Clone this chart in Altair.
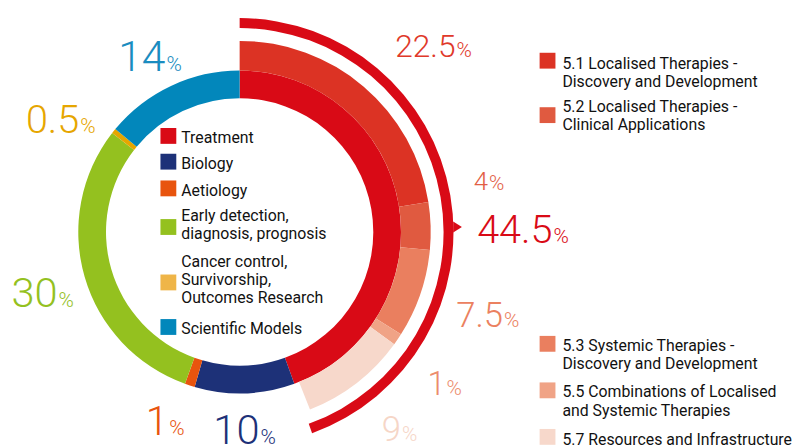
import math
import altair as alt
import pandas as pd

# ---------------- data ----------------
categories = ["Treatment", "Biology", "Aetiology",
              "Early detection,\ndiagnosis, prognosis",
              "Cancer control,\nSurvivorship,\nOutcomes Research",
              "Scientific Models"]
shares = [44.5, 10, 1, 30, 0.5, 14]

sub_categories = ["5.1 Localised Therapies -\nDiscovery and Development",
                  "5.2 Localised Therapies -\nClinical Applications",
                  "5.3 Systemic Therapies -\nDiscovery and Development",
                  "5.5 Combinations of Localised\nand Systemic Therapies",
                  "5.7 Resources and Infrastructure"]
sub_shares = [22.5, 4, 7.5, 1, 9]

# ---------------- style / layout ----------------
cat_colors = ["#d90a16", "#1d3178", "#e8540e", "#94c11f", "#e6a600", "#0287bb"]
cat_legend_colors = ["#d90a16", "#1d3178", "#e8540e", "#94c11f", "#efb548", "#0287bb"]
cat_label_colors = ["#d90a16", "#1d3178", "#e8540e", "#94c11f", "#e6a600", "#1a8cc0"]
sub_colors = ["#dc3324", "#e05a40", "#ea7f5f", "#f0a386", "#f7d8cb"]
sub_label_colors = ["#e0392a", "#e25e45", "#eb8160", "#ec8c6c", "#f6d6c7"]
total_color = "#d90a16"

M = 8  # page margin
CX, CY = 242 - M, 232 - M
R_IN, R_MID, R_OUT = 135, 163, 193
R_LINE_IN, R_LINE_OUT = 206, 216

# label anchors (page px: right edge of number, baseline), font sizes
cat_label_pos = [None, (262, 446), (170, 437), (58, 308), (80, 132), (167, 69)]
cat_label_size = [None, 42, 41, 42, 40, 43]
sub_label_pos = [(460, 55), (493, 190), (508, 328), (450, 397), (405, 443)]
sub_label_size = [32, 26, 35, 33, 35]
total_label_pos = (558, 243)
total_label_size = 40
pct_size = 21

cat_legend_sq = [135, 161, 188, 227, 283, 328]
cat_legend_base = [142, 168, 196, 221, 267, 335]
sub_legend_sq = [59, 114, 345, 392, 439]
sub_legend_base = [67, 111, 352, 399, 447]

FONT = "Roboto"


def fmt(v):
    return f"{v:g}"


# ---------------- tables ----------------
inner = pd.DataFrame({"cat": categories, "share": shares, "color": cat_colors})
inner["end"] = inner["share"].cumsum()
inner["start"] = inner["end"] - inner["share"]

outer = pd.DataFrame({"cat": sub_categories, "share": sub_shares, "color": sub_colors})
outer["end"] = outer["share"].cumsum()
outer["start"] = outer["end"] - outer["share"]

total = pd.DataFrame({"start": [0.0], "end": [shares[0]]})

theta_scale = alt.Scale(domain=[0, 100], range=[0, 2 * math.pi])


def ring(df, r_out, r_in):
    return alt.Chart(df).mark_arc(radius=r_out, radius2=r_in, stroke=None).encode(
        theta=alt.Theta("start:Q", scale=theta_scale, stack=False),
        theta2="end:Q",
        color=alt.Color("color:N", scale=None),
        x=alt.value(CX), y=alt.value(CY),
    )


inner_ring = ring(inner, R_MID, R_IN)
outer_ring = ring(outer, R_OUT, R_MID)
total_arc = alt.Chart(total).mark_arc(radius=R_LINE_OUT, radius2=R_LINE_IN, color=total_color).encode(
    theta=alt.Theta("start:Q", scale=theta_scale, stack=False),
    theta2="end:Q",
    x=alt.value(CX), y=alt.value(CY),
)
arrow = alt.Chart(pd.DataFrame({"a": [0]})).mark_point(
    shape="M-0.6,-1L1,0L-0.6,1Z", filled=True, color=total_color, size=121, opacity=1
).encode(x=alt.value(CX + R_LINE_OUT + 3), y=alt.value(CY - 5))

# ---------------- value labels ----------------
rows = []
for i, v in enumerate(shares):
    if i == 0:
        continue
    px, py = cat_label_pos[i]
    rows.append({"num": fmt(v), "x": px - M, "y": py - M, "fs": cat_label_size[i], "color": cat_label_colors[i]})
for i, v in enumerate(sub_shares):
    px, py = sub_label_pos[i]
    rows.append({"num": fmt(v), "x": px - M, "y": py - M, "fs": sub_label_size[i], "color": sub_label_colors[i]})
rows.append({"num": fmt(shares[0]), "x": total_label_pos[0] - M, "y": total_label_pos[1] - M,
             "fs": total_label_size, "color": total_color})
labels = pd.DataFrame(rows)
labels["pct"] = "%"
labels["pfs"] = pct_size

num_text = alt.Chart(labels).mark_text(align="right", baseline="alphabetic", font=FONT, fontWeight=300).encode(
    x=alt.X("x:Q", scale=None), y=alt.Y("y:Q", scale=None),
    text="num:N", size=alt.Size("fs:Q", scale=None), color=alt.Color("color:N", scale=None),
)
pct_text = alt.Chart(labels).mark_text(align="left", baseline="alphabetic", font=FONT, fontWeight=300, dx=1).encode(
    x=alt.X("x:Q", scale=None), y=alt.Y("y:Q", scale=None),
    text="pct:N", size=alt.Size("pfs:Q", scale=None), color=alt.Color("color:N", scale=None),
)

# ---------------- legends ----------------
leg = pd.DataFrame({
    "label": categories + sub_categories,
    "color": cat_legend_colors + sub_colors,
    "sx": [170 - M] * 6 + [553 - M] * 5,
    "sy": [v - M for v in cat_legend_sq] + [v - M for v in sub_legend_sq],
    "tx": [183 - M] * 6 + [568 - M] * 5,
    "ty": [v - M for v in cat_legend_base] + [v - M for v in sub_legend_base],
})
leg_sq = alt.Chart(leg).mark_square(size=256, filled=True, opacity=1).encode(
    x=alt.X("sx:Q", scale=None), y=alt.Y("sy:Q", scale=None),
    color=alt.Color("color:N", scale=None),
)
leg_txt = alt.Chart(leg).mark_text(align="left", baseline="alphabetic", font=FONT, fontSize=16,
                                   lineBreak="\n", lineHeight=18.5, color="#111111").encode(
    x=alt.X("tx:Q", scale=None), y=alt.Y("ty:Q", scale=None), text="label:N",
)

chart = alt.layer(
    inner_ring, outer_ring, total_arc, arrow, num_text, pct_text, leg_sq, leg_txt
).properties(width=797, height=439, padding=0, autosize="none").configure_view(stroke=None)

chart.save("out.html", embed_options={"renderer": "svg", "actions": False})
